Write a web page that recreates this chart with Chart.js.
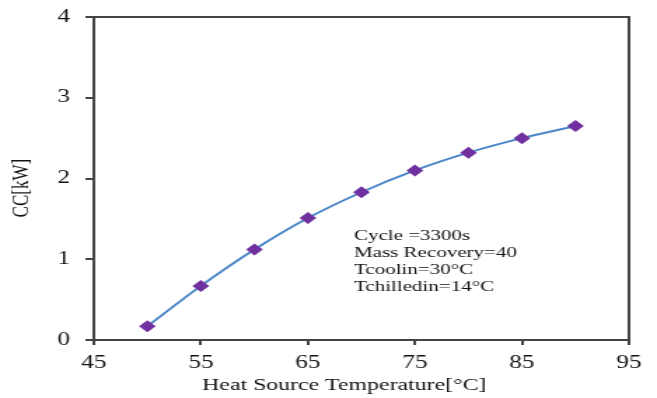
<!DOCTYPE html>
<html>
<head>
<meta charset="utf-8">
<script src="https://cdn.jsdelivr.net/npm/chart.js@4/dist/chart.umd.min.js"></script>
<style>
  body { margin: 0; background: #fff; }
</style>
</head>
<body>
<!-- the source figure is stretched sideways, so the canvas is too (inline style so Chart.js keeps it) -->
<canvas id="chart" width="469" height="398" style="display:block;width:657px;height:398px"></canvas>
<script>
// data
const temps = [50, 55, 60, 65, 70, 75, 80, 85, 90];
const cc = [0.17, 0.67, 1.12, 1.51, 1.83, 2.10, 2.32, 2.50, 2.65];
const xTicks = [45, 55, 65, 75, 85, 95];
const yTicks = [0, 1, 2, 3, 4];
const notes = ["Cycle =3300s", "Mass Recovery=40", "Tcoolin=30\u00b0C", "Tchilledin=14\u00b0C"];
const xTitle = "Heat Source Temperature[\u00b0C]";
const yTitle = "CC[kW]";

const serif = "'Liberation Serif', 'Times New Roman', serif";

// top/right frame of the plot area, axis titles (both sit off-centre in the original) and the conditions text
const framePlugin = {
    id: "frame",
    afterDraw(chart) {
        let ctx = chart.ctx;
        let a = chart.chartArea;
        ctx.save();
        ctx.strokeStyle = "#444";
        ctx.lineWidth = 2;
        ctx.beginPath();
        ctx.moveTo(a.left, a.top);
        ctx.lineTo(a.right, a.top);
        ctx.lineTo(a.right, a.bottom);
        ctx.stroke();

        ctx.fillStyle = "#111";
        ctx.textBaseline = "middle";
        ctx.textAlign = "center";
        ctx.font = "17px " + serif;
        ctx.fillText(xTitle, chart.scales.x.getPixelForValue(68.4), 386);

        ctx.save();
        ctx.translate(16, chart.scales.y.getPixelForValue(1.88));
        ctx.rotate(-Math.PI / 2);
        ctx.font = "17px " + serif;
        ctx.fillText(yTitle, 0, 0);
        ctx.restore();

        ctx.font = "15px " + serif;
        ctx.textAlign = "left";
        let x = chart.scales.x.getPixelForValue(69.3);
        let y0 = chart.scales.y.getPixelForValue(1.29);
        notes.forEach((t, i) => ctx.fillText(t, x, y0 + i * 17));
        ctx.restore();
    }
};

new Chart(document.getElementById("chart"), {
    type: "scatter",
    data: {
        datasets: [{
            data: temps.map((t, i) => ({ x: t, y: cc[i] })),
            showLine: true,
            cubicInterpolationMode: "monotone",
            borderColor: "#4a86c8",
            borderWidth: 2,
            pointStyle: "rectRot",
            pointRadius: 6,
            pointBackgroundColor: "#7030a0",
            pointBorderColor: "#7030a0",
            pointBorderWidth: 0
        }]
    },
    options: {
        responsive: false,
        animation: false,
        layout: { padding: { left: 0, right: 20, top: 17, bottom: 0 } },
        plugins: { legend: { display: false }, tooltip: { enabled: false } },
        scales: {
            x: {
                type: "linear",
                min: 45, max: 95,
                afterBuildTicks: s => { s.ticks = xTicks.map(v => ({ value: v })); },
                afterFit: s => { s.height = 58; },
                border: { color: "#444", width: 2 },
                grid: { drawOnChartArea: false, tickLength: 5, color: "#444", lineWidth: 2 },
                ticks: { color: "#111", font: { family: serif, size: 18 }, padding: 7, maxRotation: 0 }
            },
            y: {
                min: 0, max: 4,
                afterBuildTicks: s => { s.ticks = yTicks.map(v => ({ value: v })); },
                afterFit: s => { s.width = 67; s.paddingTop = 0; },
                border: { color: "#444", width: 2 },
                grid: { drawOnChartArea: false, tickLength: 6, color: "#444", lineWidth: 2 },
                ticks: { color: "#111", font: { family: serif, size: 18, lineHeight: 1 }, padding: 11 }
            }
        }
    },
    plugins: [framePlugin]
});
</script>
</body>
</html>
